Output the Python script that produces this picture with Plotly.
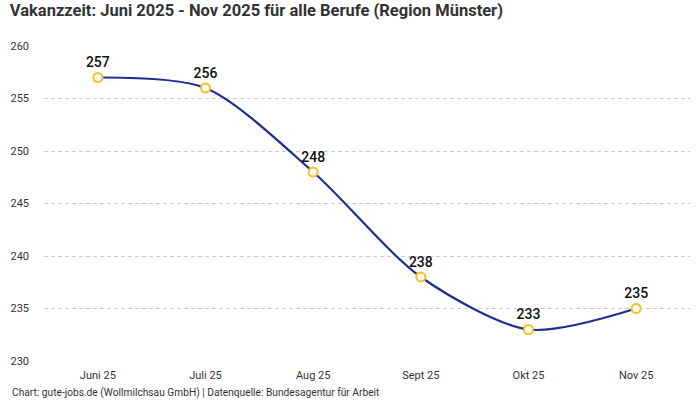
import plotly.graph_objects as go

months = ["Juni 25", "Juli 25", "Aug 25", "Sept 25", "Okt 25", "Nov 25"]
vakanzzeit = [257, 256, 248, 238, 233, 235]
y_ticks = [230, 235, 240, 245, 250, 255, 260]

title = "Vakanzzeit: Juni 2025 - Nov 2025 für alle Berufe (Region Münster)"
source = "Chart: gute-jobs.de (Wollmilchsau GmbH) | Datenquelle: Bundesagentur für Arbeit"

fig = go.Figure()
fig.add_trace(
    go.Scatter(
        x=months,
        y=vakanzzeit,
        mode="lines+markers+text",
        line=dict(color="#1f2f8f", width=2.2, shape="spline", smoothing=0.8),
        marker=dict(size=9, color="white", line=dict(color="#f7c21b", width=2)),
        text=[str(v) for v in vakanzzeit],
        textposition="top center",
        textfont=dict(family="Roboto", size=14, color="#111111", weight=500),
        cliponaxis=False,
        hoverinfo="x+y",
    )
)

fig.update_layout(
    width=700,
    height=400,
    margin=dict(l=44, r=10, t=46, b=39),
    paper_bgcolor="white",
    plot_bgcolor="white",
    showlegend=False,
    font=dict(family="Roboto", size=11, color="#333333"),
    title=dict(
        text=f"<b>{title}</b>",
        x=0.014,
        xanchor="left",
        yref="container",
        y=0.975,
        yanchor="middle",
        font=dict(family="Roboto", size=16.5, color="#333333"),
    ),
    annotations=[
        dict(
            text=source,
            xref="paper",
            yref="paper",
            x=-0.053,
            y=-0.102,
            xanchor="left",
            yanchor="middle",
            showarrow=False,
            font=dict(family="Roboto", size=10.2, color="#333333"),
        )
    ],
)
fig.update_xaxes(
    range=[-0.5, 5.5],
    showgrid=False,
    showline=False,
    zeroline=False,
    ticks="",
    ticklabelstandoff=6,
)
fig.update_yaxes(
    range=[230, 260],
    tickvals=y_ticks,
    showgrid=True,
    gridcolor="#cccccc",
    griddash="4px,3px",
    gridwidth=1,
    zeroline=False,
    showline=False,
    ticks="",
    ticklabelstandoff=14,
)

# the reference page has no body margin around the chart
fig.write_html(
    "out.html",
    config={"displayModeBar": False},
    post_script="document.body.style.margin = '0';",
)
